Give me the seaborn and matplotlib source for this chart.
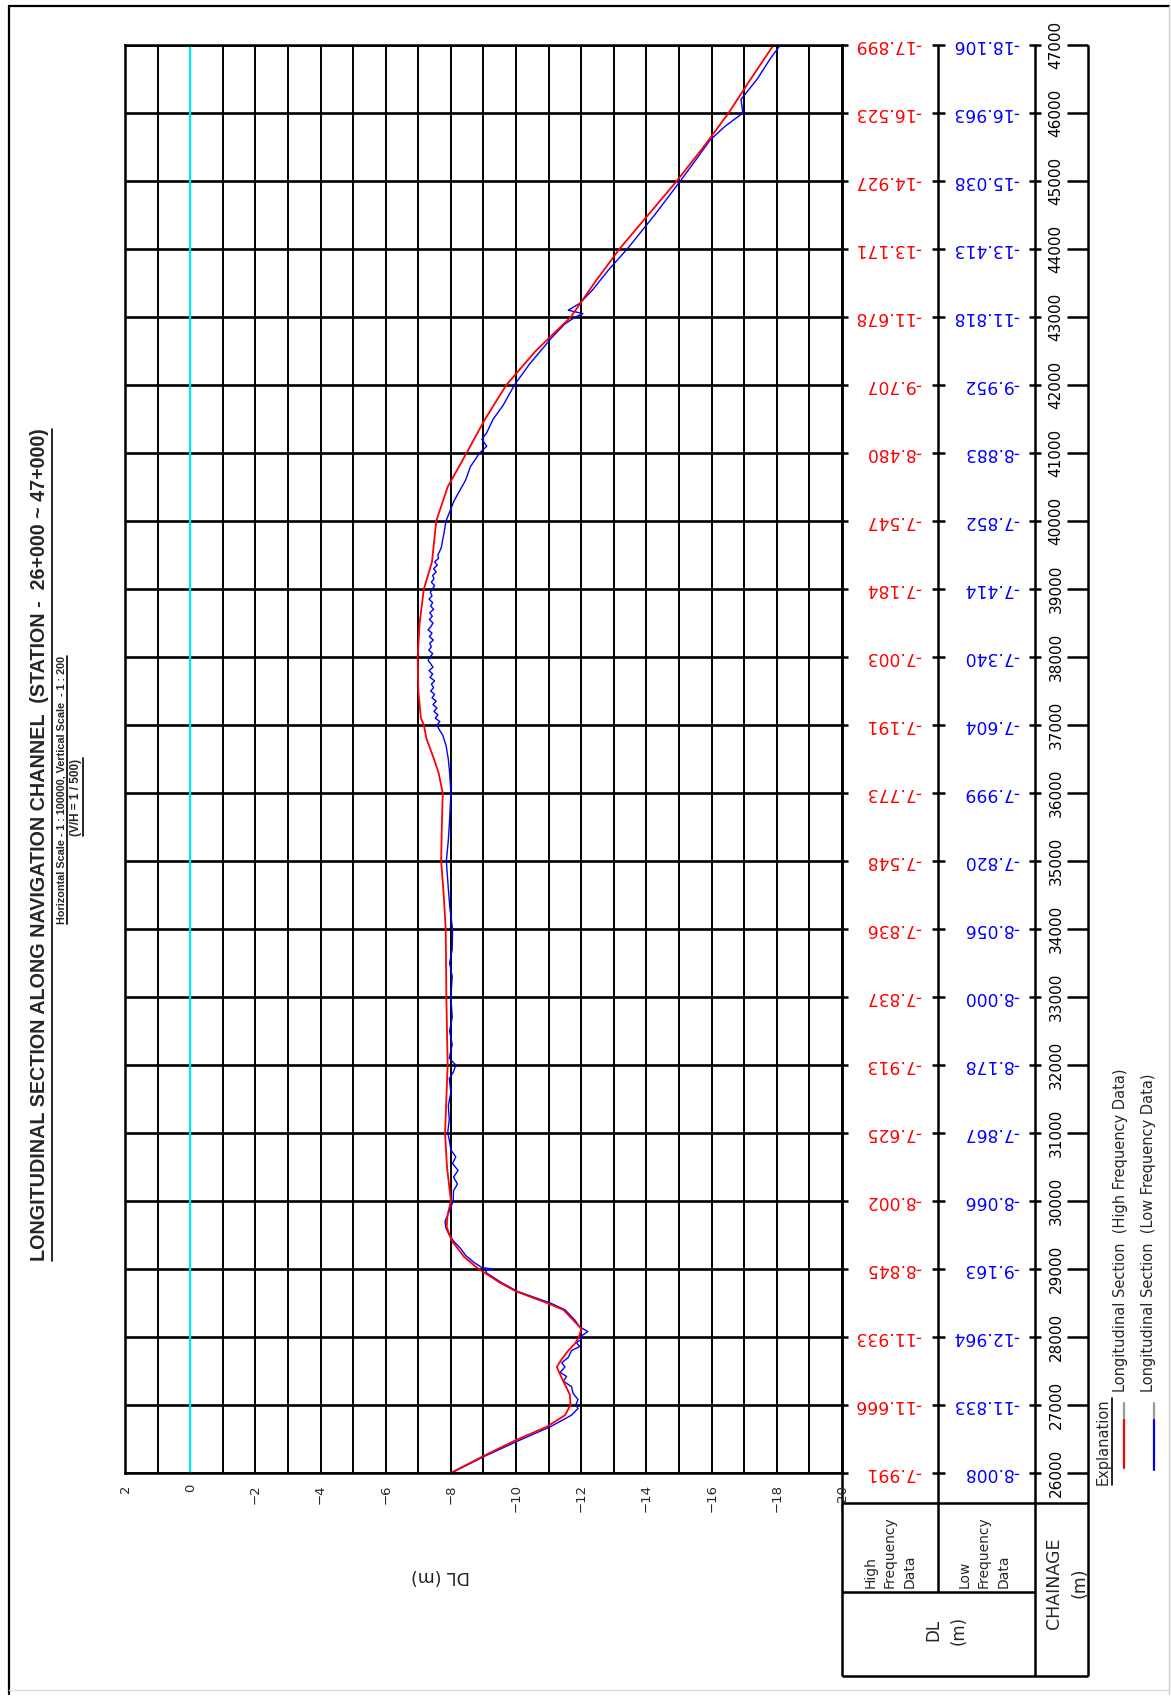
import numpy as np
import pandas as pd
import seaborn as sns
import matplotlib.pyplot as plt
from matplotlib.ticker import MultipleLocator

# Station table (chainage every 1000 m)
stations = list(range(26000, 47001, 1000))
high_table = [-7.991, -11.666, -11.933, -8.845, -8.002, -7.625, -7.913, -7.837, -7.836, -7.548, -7.773,
              -7.191, -7.003, -7.184, -7.547, -8.480, -9.707, -11.678, -13.171, -14.927, -16.523, -17.899]
low_table = [-8.008, -11.833, -12.964, -9.163, -8.066, -7.867, -8.178, -8.000, -8.056, -7.820, -7.999,
             -7.604, -7.340, -7.414, -7.852, -8.883, -9.952, -11.818, -13.413, -15.038, -16.963, -18.106]

# High frequency profile
high_ch = [26000, 26250, 26485, 26680, 26850, 27000, 27150, 27300, 27450, 27560, 27660, 27800, 27900,
           28000, 28120, 28200, 28300, 28400, 28500, 28670, 28800, 28940, 29000, 29180, 29420, 29620,
           29800, 30000, 30500, 31000, 31500, 32000, 32500, 33000, 33500, 34000, 34500, 35000, 35500,
           36000, 36300, 36500, 36800, 37000, 37100, 37500, 38000, 38500, 39000, 39400, 40000, 40500,
           41000, 41500, 42000, 42500, 43000, 43500, 44000, 44500, 45000, 45500, 46000, 46500, 47000]
high_dl = [-7.99, -9.0, -10.0, -10.94, -11.5, -11.67, -11.65, -11.5, -11.35, -11.25, -11.38, -11.6, -11.8,
           -11.93, -12.0, -11.85, -11.65, -11.45, -10.95, -10.0, -9.5, -9.05, -8.85, -8.4, -8.02, -7.87,
           -7.9, -8.0, -7.88, -7.82, -7.86, -7.9, -7.88, -7.86, -7.85, -7.84, -7.78, -7.7, -7.72,
           -7.75, -7.62, -7.48, -7.25, -7.17, -7.08, -7.0, -6.98, -7.04, -7.17, -7.42, -7.55, -7.9,
           -8.48, -9.05, -9.7, -10.6, -11.68, -12.4, -13.17, -14.05, -14.93, -15.75, -16.52, -17.2, -17.9]

# Low frequency profile
low_ch = [26000, 26250, 26480, 26680, 26850, 26950, 27000, 27080, 27170, 27270, 27350, 27420, 27480,
          27560, 27620, 27700, 27800, 27860, 27920, 27960, 28000, 28080, 28150, 28250, 28400, 28500,
          28670, 28800, 28940, 28990, 29000, 29020, 29100, 29200, 29300, 29400, 29500, 29600, 29700,
          29850, 30000, 30150, 30250, 30350, 30450, 30550, 30650, 30750, 30900, 31000, 31200, 31400,
          31600, 31800, 31900, 32000, 32100, 32300, 32500, 32700, 33000, 33300, 33500, 33700, 34000,
          34300, 34600, 35000, 35300, 35600, 36000, 36300, 36500, 36700, 36850, 36950,
          37000, 37050, 37100, 37150, 37200, 37250, 37300, 37350, 37400, 37450, 37500, 37550, 37600,
          37650, 37700, 37750, 37800, 37850, 37900, 37950, 38000, 38050, 38100, 38150, 38200, 38250,
          38300, 38350, 38400, 38450, 38500, 38550, 38600, 38650, 38700, 38750, 38800, 38850, 38900,
          38950, 39000, 39050, 39100, 39150, 39200, 39250, 39300, 39350, 39400, 39450, 39500, 39600,
          39800, 40000, 40300, 40600, 40800, 41000, 41100, 41200, 41300, 41500, 41700, 42000, 42300,
          42500, 42700, 42900, 43000, 43050, 43100, 43200, 43400, 43700, 44000, 44500, 45000, 45300,
          45600, 45800, 46000, 46200, 46500, 46800, 47000]
low_dl = [-8.01, -9.05, -10.1, -11.05, -11.7, -11.9, -11.83, -11.9, -11.75, -11.7, -11.45, -11.55, -11.35,
          -11.5, -11.4, -11.6, -11.7, -11.95, -11.85, -12.0, -11.96, -12.2, -11.95, -11.8, -11.5, -11.05,
          -10.05, -9.55, -9.1, -9.05, -9.3, -8.95, -8.7, -8.45, -8.3, -8.1, -7.95, -7.85, -7.82,
          -7.95, -8.07, -8.08, -8.2, -8.08, -8.22, -8.05, -8.15, -8.0, -7.95, -7.9, -7.95, -7.92,
          -8.0, -7.95, -8.08, -8.15, -7.95, -8.04, -7.96, -8.04, -8.0, -8.04, -7.96, -8.04, -8.05,
          -7.97, -7.92, -7.86, -7.92, -7.96, -8.0, -7.96, -7.92, -7.85, -7.75, -7.62,
          -7.58, -7.66, -7.52, -7.6, -7.48, -7.57, -7.45, -7.55, -7.42, -7.5, -7.38, -7.47, -7.4,
          -7.5, -7.36, -7.44, -7.33, -7.45, -7.38, -7.3, -7.36, -7.44, -7.32, -7.4, -7.35, -7.46,
          -7.34, -7.42, -7.3, -7.39, -7.45, -7.34, -7.43, -7.35, -7.47, -7.38, -7.44, -7.33, -7.42,
          -7.37, -7.43, -7.5, -7.4, -7.48, -7.44, -7.55, -7.47, -7.58, -7.5, -7.62, -7.6, -7.7,
          -7.78, -7.85, -8.1, -8.45, -8.6, -8.88, -9.1, -8.95, -9.1, -9.3, -9.6, -9.95, -10.4,
          -10.75, -11.1, -11.5, -11.82, -12.05, -11.6, -11.95, -12.35, -12.85, -13.41, -14.25, -15.04, -15.5,
          -15.95, -16.4, -16.96, -16.9, -17.4, -17.8, -18.11]

high_df = pd.DataFrame({'chainage': high_ch, 'dl': high_dl})
low_df = pd.DataFrame({'chainage': low_ch, 'dl': low_dl})

RED = '#ff0000'
BLUE = '#0000ff'
CYAN = '#00e5ee'
W, H = 1171, 1698

sns.set_theme(style='white')
plt.rcParams['font.family'] = ['DejaVu Sans']

fig = plt.figure(figsize=(W / 100, H / 100), dpi=100)


def px_axes(l, t, r, b, **kw):
    return fig.add_axes([l / W, 1 - b / H, (r - l) / W, (b - t) / H], **kw)


# overlay in pixel coordinates for frame, header and legend
ov = px_axes(0, 0, W, H)
ov.set_xlim(0, W)
ov.set_ylim(H, 0)
ov.axis('off')

# ---- main profile plot (page is turned: chainage runs up, DL runs across)
ax = px_axes(125, 45, 842, 1473)
ax.set_xlim(2, -20)
ax.set_ylim(26000, 47000)
ax.set_xticks(np.arange(2, -21, -2))
ax.xaxis.set_minor_locator(MultipleLocator(1))
ax.set_yticks(stations)
ax.set_yticklabels([])
ax.xaxis.grid(True, which='both', color='black', lw=1.4)
ax.yaxis.grid(True, color='black', lw=1.9)
ax.axvline(0, color=CYAN, lw=1.6, zorder=1.8)
for s in ax.spines.values():
    s.set_color('black')
    s.set_linewidth(1.8)
ax.tick_params(axis='x', which='both', length=0, pad=8, labelsize=9.5, labelrotation=90)
ax.tick_params(axis='y', length=0)

sns.lineplot(data=low_df, x='dl', y='chainage', sort=False, estimator=None, color=BLUE, lw=1.0, ax=ax, legend=False)
sns.lineplot(data=high_df, x='dl', y='chainage', sort=False, estimator=None, color=RED, lw=1.3, ax=ax, legend=False)
ax.set_xlabel('')
ax.set_ylabel('')

ov.text(440, 1576, 'DL (m)', rotation=180, ha='center', va='center', fontsize=12.5, color='#222222')

# ---- table next to the plot, sharing the chainage scale
tab = px_axes(842, 45, 1088, 1473, sharey=ax)
tab.set_xlim(842, 1088)
tab.axis('off')
for ch, hv, lv in zip(stations, high_table, low_table):
    tab.text(921, ch, f'{hv:.3f}', rotation=180, ha='right', va='center', fontsize=12.3, color=RED)
    tab.text(1019, ch, f'{lv:.3f}', rotation=180, ha='right', va='center', fontsize=12.3, color=BLUE)
    tab.text(1056, ch, f'{ch}', rotation=90, ha='center', va='center', fontsize=11, color='black')
tab.hlines(stations, 842, 848, color='black', lw=1.8, clip_on=False)
tab.hlines(stations, 932, 945, color='black', lw=1.8, clip_on=False)
tab.hlines(stations, 1029, 1041, color='black', lw=1.8, clip_on=False)
tab.hlines(stations, 1067, 1088, color='black', lw=1.8, clip_on=False)

# table frame and header
lk = dict(color='black', lw=1.8, solid_capstyle='butt')
ov.plot([842, 842], [45, 1676], **lk)
ov.plot([938, 938], [45, 1592], **lk)
ov.plot([1035, 1035], [45, 1676], **lk)
ov.plot([1088, 1088], [45, 1676], **lk)
ov.plot([842, 1088], [1503, 1503], **lk)
ov.plot([842, 1035], [1592, 1592], **lk)
ov.plot([842, 1088], [1676, 1676], **lk)

ov.text(890, 1588, 'High\nFrequency\nData', rotation=90, ha='center', va='bottom',
        multialignment='left', linespacing=1.5, fontsize=10)
ov.text(984, 1588, 'Low\nFrequency\nData', rotation=90, ha='center', va='bottom',
        multialignment='left', linespacing=1.5, fontsize=10)
ov.text(946, 1630, 'DL\n(m)', rotation=90, ha='center', va='center',
        multialignment='center', linespacing=1.5, fontsize=12)
ov.text(1067, 1583, 'CHAINAGE\n(m)', rotation=90, ha='center', va='center',
        multialignment='center', linespacing=1.5, fontsize=12.5)

# ---- legend
expl = ov.text(1103, 1485, 'Explanation', rotation=90, ha='center', va='bottom', fontsize=10.5)
ov.plot([1124, 1124], [1403, 1420], color='#9a9a9a', lw=1.6)
ov.plot([1124, 1124], [1420, 1468], color=RED, lw=1.6)
ov.plot([1154, 1154], [1403, 1420], color='#9a9a9a', lw=1.6)
ov.plot([1154, 1154], [1420, 1470], color=BLUE, lw=1.6)
ov.text(1121, 1392, 'Longitudinal Section  (High Frequency Data)', rotation=90, ha='center', va='bottom', fontsize=10.5)
ov.text(1149, 1392, 'Longitudinal Section  (Low Frequency Data)', rotation=90, ha='center', va='bottom', fontsize=10.5)

# ---- title block
title = ov.text(40, 845, 'LONGITUDINAL SECTION ALONG NAVIGATION CHANNEL  (STATION -  26+000 ~ 47+000)',
                rotation=90, ha='center', va='center', fontsize=14.2, fontweight='bold', family='Liberation Sans')
sub1 = ov.text(61, 790, 'Horizontal Scale - 1 : 100000, Vertical Scale  - 1 : 200',
               rotation=90, ha='center', va='center', fontsize=7.8, fontweight='bold', family='Liberation Sans')
sub2 = ov.text(76, 797, '(V/H = 1 / 500)',
               rotation=90, ha='center', va='center', fontsize=8.5, fontweight='bold', family='Liberation Sans')

# page border
ov.plot([9, 9], [6, 1694], color='black', lw=1.6)
ov.plot([9, 1169], [6, 6], color='black', lw=1.6)
ov.plot([1169, 1169], [6, 1694], color='#cccccc', lw=1.0)
ov.plot([9, 1169], [1690, 1690], color='#dddddd', lw=1.0)

# underlines (drawn on the right side of the turned text)
fig.canvas.draw()
inv = ov.transData.inverted()
for t, gap in [(title, 2), (sub1, 1), (sub2, 1), (expl, 1)]:
    bb = t.get_window_extent()
    (x0, y0), (x1, y1) = inv.transform([[bb.x0, bb.y0], [bb.x1, bb.y1]])
    ov.plot([x1 + gap, x1 + gap], [y0, y1], color='black', lw=1.2)

fig.savefig('out.png', dpi=100)
